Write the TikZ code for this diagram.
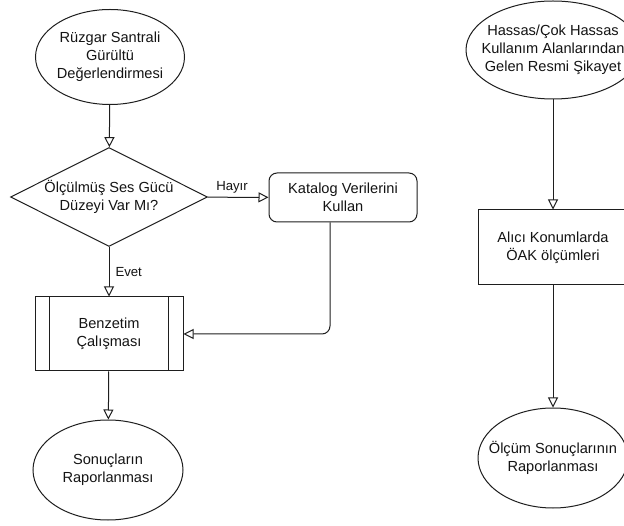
\documentclass[tikz,border=0pt]{standalone}
\usepackage{fontspec}
\setmainfont{Liberation Sans}
\usetikzlibrary{shapes.geometric,arrows.meta,calc}
\definecolor{inkline}{HTML}{1E1E1E}
\definecolor{inktext}{HTML}{141414}
\begin{document}
\begin{tikzpicture}[x=1pt,y=-1pt,
  every node/.style={font=\fontsize{14.6}{17.8}\selectfont, text=inktext, align=center, inner sep=0pt},
  shapeline/.style={draw=inkline, line width=1pt, fill=white},
  % ellipse sized by its minimum dimensions only; the text sits on top as a centred label
  terminal/.style={shapeline, ellipse, label={center:{#1}}},
  procbox/.style={shapeline, rectangle},
  roundbox/.style={shapeline, rectangle, rounded corners=8pt},
  decision/.style={shapeline, diamond, aspect=2},
  flow/.style={draw=inkline, line width=1pt, -{Triangle[open, length=10pt, width=10pt, fill=white]}},
  edgelabel/.style={font=\fontsize{13.2}{15}\selectfont}
]
\useasboundingbox (0,0) rectangle (624,526);
\clip (0,0) rectangle (624,526);

% left column
\node[terminal={Rüzgar Santrali\\Gürültü\\Değerlendirmesi},
      minimum width=149pt, minimum height=95pt] (start) at (110,57) {};
\node[decision, minimum width=197pt, minimum height=99pt] (query) at (109,197)
  {Ölçülmüş Ses Gücü\\Düzeyi Var Mı?};
\node[roundbox, minimum width=148pt, minimum height=49pt] (catalog) at (343,197.5)
  {Katalog Verilerini\\Kullan};
\node[procbox, minimum width=148pt, minimum height=74pt] (sim) at (109,334)
  {Benzetim\\Çalışması};
\draw[inkline, line width=1pt] ([xshift=15pt]sim.north west) -- ([xshift=15pt]sim.south west);
\draw[inkline, line width=1pt] ([xshift=-15pt]sim.north east) -- ([xshift=-15pt]sim.south east);
\node[terminal={Sonuçların\\Raporlanması},
      minimum width=150pt, minimum height=100pt] (report) at (108,470) {};

\draw[flow] (start) -- (query);
\draw[flow] (query) -- node[edgelabel, above, yshift=4pt, xshift=-6pt] {Hayır} (catalog);
\draw[flow] (query) -- node[edgelabel, right, xshift=6pt, pos=0.5] {Evet} (sim);
\draw[flow, rounded corners=8pt] ([xshift=-13pt]catalog.south) |- (sim.east);
\draw[flow] (sim) -- (report);

% right column
\node[terminal={Hassas/Çok Hassas\\Kullanım Alanlarından\\Gelen Resmi Şikayet},
      minimum width=174pt, minimum height=98pt] (complaint) at (553,50) {};
\node[procbox, minimum width=150pt, minimum height=75pt] (measure) at (553,247.5)
  {Alıcı Konumlarda\\ÖAK ölçümleri};
\node[terminal={Ölçüm Sonuçlarının\\Raporlanması},
      minimum width=150pt, minimum height=100pt] (mreport) at (553,458) {};

\draw[flow] (complaint) -- (measure);
\draw[flow] (measure) -- (mreport);
\end{tikzpicture}
\end{document}
